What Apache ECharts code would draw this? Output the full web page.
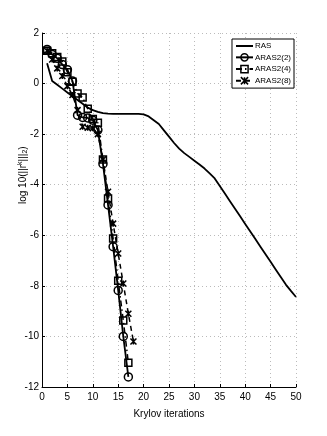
<!DOCTYPE html>
<html><head><meta charset="utf-8">
<script src="https://cdn.jsdelivr.net/npm/echarts@6/dist/echarts.min.js"></script>
<style>html,body{margin:0;padding:0;background:#fff}#c{width:327px;height:436px}</style>
</head><body><div id="c"></div>
<script>
const rasX = [1,2,3,4,5,6,7,8,9,10,11,12,13,14,15,16,17,18,19,20,21,22,23,24,25,26,27,28,29,30,31,32,33,34,35,36,37,38,39,40,41,42,43,44,45,46,47,48,49,50];
const rasY = [0.8,0.1,-0.05,-0.2,-0.35,-0.5,-0.65,-0.8,-0.95,-1.05,-1.12,-1.17,-1.19,-1.2,-1.2,-1.2,-1.2,-1.2,-1.2,-1.22,-1.3,-1.45,-1.6,-1.85,-2.1,-2.35,-2.57,-2.75,-2.9,-3.05,-3.2,-3.36,-3.55,-3.75,-4.05,-4.35,-4.65,-4.95,-5.25,-5.55,-5.85,-6.15,-6.45,-6.75,-7.05,-7.35,-7.65,-7.95,-8.2,-8.44];
const aras2X = [1,2,3,4,5,6,7,8,9,10,11,12,13,14,15,16,17];
const aras2Y = [1.35,1.15,1.0,0.75,0.55,0.1,-1.25,-1.34,-1.36,-1.45,-1.84,-3.18,-4.8,-6.45,-8.18,-10.0,-11.6];
const aras4X = [1,2,3,4,5,6,7,8,9,10,11,12,13,14,15,16,17];
const aras4Y = [1.3,1.2,1.05,0.87,0.45,0.07,-0.39,-0.55,-1.0,-1.4,-1.55,-3.0,-4.55,-6.13,-7.8,-9.37,-11.04];
const aras8X = [1,2,3,4,5,6,7,8,9,10,11,12,13,14,15,16,17,18];
const aras8Y = [1.3,0.95,0.6,0.3,-0.1,-0.45,-1.05,-1.71,-1.75,-1.77,-2.0,-3.0,-4.28,-5.54,-6.72,-7.91,-9.1,-10.2];
const xTicks = [0,5,10,15,20,25,30,35,40,45,50];
const yTicks = [-12,-10,-8,-6,-4,-2,0,2];

const pair = (xs, ys) => xs.map((x, i) => [x, ys[i]]);
const FONT = "'Liberation Sans Narrow','Liberation Sans',Arial,sans-serif";
const crossPath = 'path://M0,0L10,10M10,0L0,10M5,0L5,10';
const hollow = {color: 'rgba(255,255,255,0)', borderColor: '#000', borderWidth: 1.5};

const chart = echarts.init(document.getElementById('c'), null, {renderer: 'canvas'});
chart.setOption({
  animation: false,
  backgroundColor: '#fff',
  grid: {left: 42, top: 33, right: 31, bottom: 49, containLabel: false},
  xAxis: {
    type: 'value', min: 0, max: 50, interval: 5,
    axisLine: {show: true, onZero: false, lineStyle: {color: '#000', width: 1}},
    axisTick: {show: true, inside: true, length: 3, lineStyle: {color: '#000'}},
    axisLabel: {fontFamily: FONT, fontSize: 10, color: '#000', margin: 5},
    splitLine: {show: true, lineStyle: {color: '#bbb', type: [1, 3], width: 1}},
    name: 'Krylov iterations', nameLocation: 'middle', nameGap: 22,
    nameTextStyle: {fontFamily: FONT, fontSize: 10, color: '#000'}
  },
  yAxis: {
    type: 'value', min: -12, max: 2, interval: 2,
    axisLine: {show: true, onZero: false, lineStyle: {color: '#000', width: 1}},
    axisTick: {show: true, inside: true, length: 3, lineStyle: {color: '#000'}},
    axisLabel: {fontFamily: FONT, fontSize: 10, color: '#000', margin: 3},
    splitLine: {show: true, lineStyle: {color: '#bbb', type: [1, 3], width: 1}}
  },
  graphic: [{
    type: 'text', x: 17, y: 204, rotation: Math.PI / 2,
    style: {
      text: '{a|log 10(||r}{s|k}{a||||}{b|2}{a|)}',
      rich: {
        a: {fontFamily: FONT, fontSize: 10, fill: '#000'},
        s: {fontFamily: FONT, fontSize: 7, fill: '#000', verticalAlign: 'top', padding: [0,0,6,0]},
        b: {fontFamily: FONT, fontSize: 7, fill: '#000', padding: [4,0,0,0]}
      }
    }
  }],
  legend: {
    right: 33, top: 39, orient: 'vertical', itemGap: 3, itemWidth: 17, itemHeight: 9,
    backgroundColor: '#fff', borderColor: '#000', borderWidth: 1, padding: [3, 3, 3, 3],
    textStyle: {fontFamily: FONT, fontSize: 8, color: '#000', padding: [0,0,0,-3]},
    itemStyle: hollow,
    data: [
      {name: 'RAS', itemStyle: {color: 'rgba(0,0,0,0)', borderColor: 'rgba(0,0,0,0)', borderWidth: 0}},
      {name: 'ARAS2(2)'}, {name: 'ARAS2(4)'}, {name: 'ARAS2(8)'}
    ]
  },
  series: [
    {name: 'RAS', type: 'line', data: pair(rasX, rasY), showSymbol: false, symbol: 'circle', symbolSize: 1,
     lineStyle: {color: '#000', width: 1.8}, itemStyle: {color: '#000'}},
    {name: 'ARAS2(2)', type: 'line', data: pair(aras2X, aras2Y), symbol: 'circle', symbolSize: 8,
     lineStyle: {color: '#000', width: 1.8}, itemStyle: hollow},
    {name: 'ARAS2(4)', type: 'line', data: pair(aras4X, aras4Y), symbol: 'rect', symbolSize: 7,
     lineStyle: {color: '#000', width: 1.5, type: [6, 3, 1.5, 3]}, itemStyle: hollow},
    {name: 'ARAS2(8)', type: 'line', data: pair(aras8X, aras8Y), symbol: crossPath, symbolSize: 6,
     lineStyle: {color: '#000', width: 1.5, type: [5, 4]}, itemStyle: hollow}
  ]
});
</script>
</body></html>
